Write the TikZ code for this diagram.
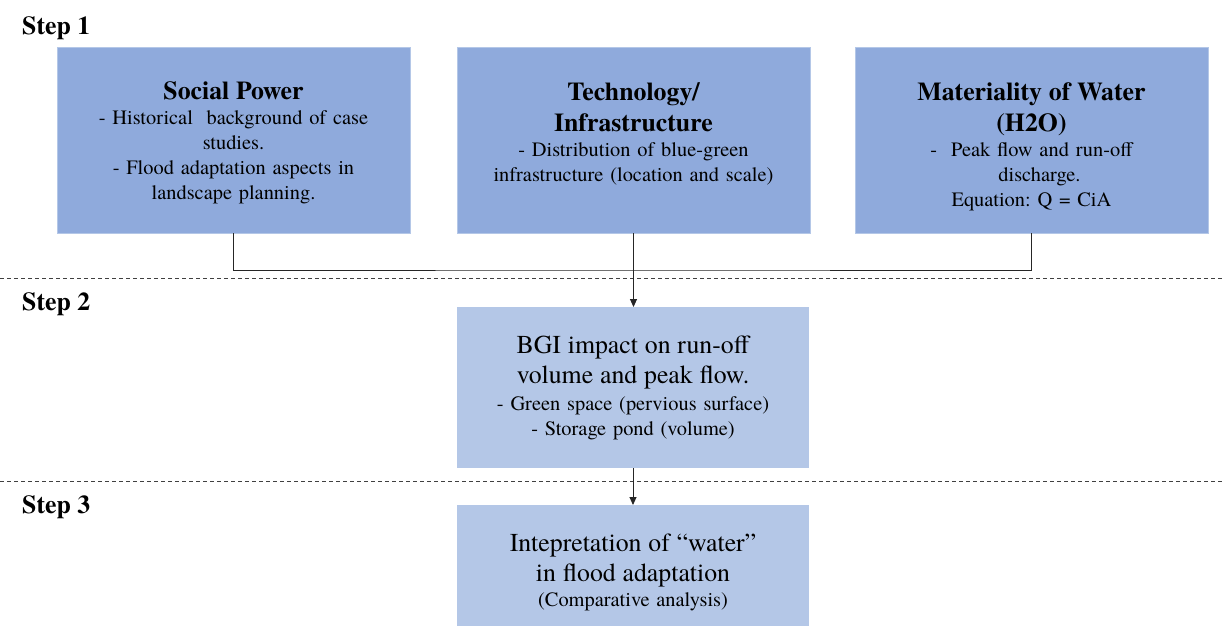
\documentclass[tikz,border=0pt]{standalone}
\usepackage{fontspec}
\setmainfont{texgyretermes}[Extension=.otf, UprightFont=*-regular, BoldFont=*-bold, ItalicFont=*-italic, BoldItalicFont=*-bolditalic]
\usetikzlibrary{arrows.meta}
\definecolor{boxA}{HTML}{8FAADC}
\definecolor{boxB}{HTML}{B4C7E7}
\definecolor{lineC}{HTML}{262626}
\frenchspacing
\tikzset{
  x=1pt, y=-1pt,
  box/.style={anchor=north west, inner sep=0pt, outer sep=0pt, align=center, text width=#1},
  topbox/.style={box=330pt, fill=boxA, draw=boxB, line width=0.8pt,
    minimum width=353pt, minimum height=186pt,
    font=\fontsize{20.4}{25}\selectfont\frenchspacing},
  lowbox/.style={box=330pt, fill=boxB, draw=none,
    minimum width=352pt, font=\fontsize{20.4}{25}\selectfont\frenchspacing},
  steplabel/.style={anchor=west, inner sep=0pt, font=\fontsize{25.8}{30}\selectfont\bfseries},
  conn/.style={draw=lineC, line width=0.9pt},
  arr/.style={conn, -{Triangle[length=8pt,width=7pt]}},
  sep/.style={draw=black!75, line width=0.8pt, dash pattern=on 4pt off 3pt}
}
\newcommand{\ttlfont}{\fontsize{25.8}{31}\selectfont\bfseries}
\newcommand{\bigfont}{\fontsize{25.8}{30}\selectfont}
\newcommand{\txtpad}[1]{\par\vspace{#1}\nointerlineskip\hbox{}}
\begin{document}
\begin{tikzpicture}
\clip (0,0) rectangle (1224,625);
\fill[white] (0,0) rectangle (1224,625);

% separators
\coordinate (s1l) at (0,278); \coordinate (s1r) at (1224,278);
\coordinate (s2l) at (0,481); \coordinate (s2r) at (1224,481);
\draw[sep] (s1l) -- (s1r);
\draw[sep] (s2l) -- (s2r);

% step labels
\node[steplabel] (st1) at (22,28) {Step 1};
\node[steplabel] (st2) at (22,304) {Step 2};
\node[steplabel] (st3) at (22,507) {Step 3};

% top boxes
\node[topbox] (b1) at (57,47) {{\ttlfont Social Power\par}
- Historical\ \ background of case\\ studies.\\ - Flood adaptation aspects in\\ landscape planning.\txtpad{-6pt}};
\node[topbox] (b2) at (457,47) {{\ttlfont Technology/\\ Infrastructure\par}
- Distribution of blue-green\\ infrastructure (location and scale)\txtpad{12pt}};
\node[topbox] (b3) at (855,47) {{\ttlfont Materiality of Water\\ (H2O)\par}
-\hspace{14pt}Peak flow and run-off\\ \hspace*{16pt}discharge.\\ Equation: Q = CiA\txtpad{-14pt}};

% step 2 box
\node[lowbox, minimum height=161pt] (b4) at (457,307) {{\bigfont BGI impact on run-off\\ volume and peak flow.\par}
\vspace{2pt}- Green space (pervious surface)\\ - Storage pond (volume)};

% step 3 box
\node[lowbox, minimum height=135pt] (b5) at (457,505) {{\bigfont Intepretation of “water”\\ in flood adaptation\par}
(Comparative analysis)};

% connectors
\coordinate (j) at (633,270);
\draw[conn] (b1.south) |- (j) -| (b3.south);
\draw[arr] (b2.south) -- (b2.south |- b4.north);
\draw[arr] (b4.south) -- (b4.south |- b5.north);
\end{tikzpicture}
\end{document}
